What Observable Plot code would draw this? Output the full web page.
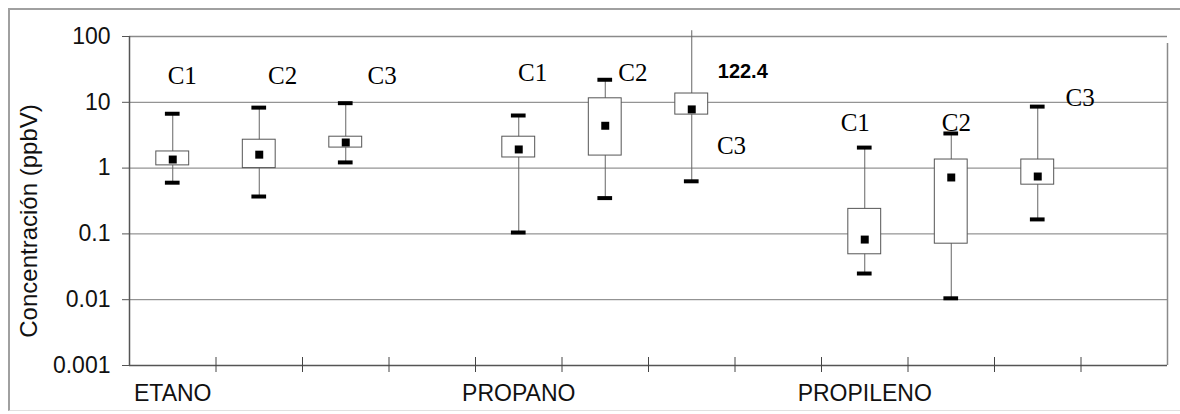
<!DOCTYPE html>
<html>
<head>
<meta charset="utf-8">
<script src="https://cdn.jsdelivr.net/npm/d3@7"></script>
<script src="https://cdn.jsdelivr.net/npm/@observablehq/plot@0.6"></script>
<style>
  html, body { margin: 0; padding: 0; background: #fff; }
  #wrap { position: relative; width: 1180px; height: 414px; overflow: hidden; }
  #border { position: absolute; left: 8px; top: 8px; width: 1180px; height: 403px;
            border-top: 2px solid #a0a0a0; border-left: 2px solid #a0a0a0; border-bottom: 1px solid #e0e0e0; box-sizing: border-box; }
  #chart { position: absolute; left: 0; top: 0; }
  g[aria-label="ytitle"] text { letter-spacing: 1.2px; }
</style>
</head>
<body>
<div id="wrap"><div id="border"></div><div id="chart"></div></div>
<script>
// ---- data ----
const categories = ["ETANO", "PROPANO", "PROPILENO"];
const series = ["C1", "C2", "C3"];
// order: ETANO C1..C3, PROPANO C1..C3, PROPILENO C1..C3
const minV   = [0.6,  0.37, 1.22, 0.105, 0.35, 0.63, 0.025, 0.0105, 0.166];
const q1V    = [1.1,  1.0,  2.05, 1.45,  1.55, 6.5,  0.049, 0.071,  0.56];
const medV   = [1.35, 1.6,  2.45, 1.92,  4.4,  7.8,  0.082, 0.72,   0.745];
const q3V    = [1.79, 2.7,  3.0,  3.0,   11.5, 13.6, 0.24,  1.35,   1.35];
const maxV   = [6.7,  8.3,  9.7,  6.3,   22,   122.4, 2.05, 3.36,   8.6];
const yTicks = [0.001, 0.01, 0.1, 1, 10, 100];
const yTickLabels = ["0.001", "0.01", "0.1", "1", "10", "100"];
const yTitle = "Concentración (ppbV)";
// series label annotations (slot units, value)
const labelText = ["C1", "C2", "C3", "C1", "C2", "C3", "C1", "C2", "C3"];
const labelX    = [0.61, 1.77, 2.92, 4.66, 5.82, 6.96, 8.39, 9.56, 10.99];
const labelY    = [24.7, 24.7, 24.7, 27.4, 27.4, 2.2, 4.9, 4.9, 11.8];
const outlierText = "122.4";
const outlierX = 7.09, outlierY = 29.4;
const nSlots = 12;

// ---- build table ----
const rows = [];
categories.forEach((c, g) => series.forEach((s, j) => {
  const i = g * 3 + j;
  rows.push({cat: c, ser: s, slot: g * 4 + j + 0.5,
    min: minV[i], q1: q1V[i], med: medV[i], q3: q3V[i], max: maxV[i]});
}));
const labels = labelText.map((t, i) => ({t, x: labelX[i], y: labelY[i]}));
const cats = categories.map((c, g) => ({c, x: g * 4 + 0.5}));
const slotTicks = d3.range(0, nSlots + 1);
const yMax = yTicks[yTicks.length - 1], yMin = yTicks[0];

const bw = 0.19, cw = 0.085;
const plot = Plot.plot({
  width: 1180, height: 414,
  marginLeft: 129, marginRight: 13, marginTop: 36, marginBottom: 49,
  style: {fontFamily: "Liberation Sans, Arial, sans-serif", background: "transparent"},
  x: {type: "linear", domain: [0, nSlots], axis: null},
  y: {type: "log", domain: [yMin, yMax], axis: null},
  marks: [
    // grid
    Plot.ruleY(yTicks.slice(1, -1), {y: d => d, x1: 0, x2: nSlots, stroke: "#7a7a7a", strokeWidth: 1}),
    Plot.ruleY([yMax], {y: d => d, x1: 0, x2: nSlots, stroke: "#8a8a8a", strokeWidth: 1.5}),
    // right frame
    Plot.ruleX([nSlots], {x: d => d, y1: yMin, y2: yMax, stroke: "#8a8a8a", strokeWidth: 1.5, insetBottom: -7}),
    // y axis
    Plot.ruleX([0], {x: d => d, y1: yMin, y2: yMax, stroke: "#555", strokeWidth: 1.5}),
    Plot.ruleY(yTicks, {y: d => d, x1: 0, x2: 0, insetLeft: -7, stroke: "#555", strokeWidth: 1}),
    Plot.text(yTicks, {x: 0, y: d => d, text: (d, i) => yTickLabels[i], textAnchor: "end", dx: -19, fontSize: 23, fill: "#111"}),
    Plot.text([yTitle], {frameAnchor: "left", text: d => d, rotate: -90, textAnchor: "middle", dx: -100, dy: 20, fontSize: 24, fill: "#111", ariaLabel: "ytitle"}),
    // x axis
    Plot.ruleY([yMin], {y: d => d, x1: 0, x2: nSlots, stroke: "#555", strokeWidth: 1.5}),
    Plot.ruleX(slotTicks.slice(1, -1), {x: d => d, y1: yMin, y2: yMin, insetTop: -8, insetBottom: -7, stroke: "#444", strokeWidth: 1}),
    Plot.text(cats, {x: "x", y: yMin, text: "c", dy: 28, fontSize: 23, fill: "#111"}),
    // whiskers
    Plot.ruleX(rows, {x: "slot", y1: "min", y2: "max", stroke: "#666", strokeWidth: 1}),
    Plot.ruleY(rows.filter(d => d.max <= yMax), {y: "max", x1: d => d.slot - cw, x2: d => d.slot + cw, stroke: "#000", strokeWidth: 4}),
    Plot.ruleY(rows, {y: "min", x1: d => d.slot - cw, x2: d => d.slot + cw, stroke: "#000", strokeWidth: 4}),
    // boxes
    Plot.rect(rows, {x1: d => d.slot - bw, x2: d => d.slot + bw, y1: "q1", y2: "q3", fill: "#fff", stroke: "#555", strokeWidth: 1}),
    Plot.dot(rows, {x: "slot", y: "med", symbol: "square", r: 4.5, fill: "#000", stroke: "none"}),
    // labels
    Plot.text(labels, {x: "x", y: "y", text: "t", fontFamily: "Liberation Serif, Times New Roman, serif", fontSize: 25, fill: "#000"}),
    Plot.text([outlierText], {x: outlierX, y: outlierY, text: d => d, fontWeight: "bold", fontSize: 20, fill: "#000"})
  ]
});
document.getElementById("chart").appendChild(plot);
</script>
</body>
</html>
